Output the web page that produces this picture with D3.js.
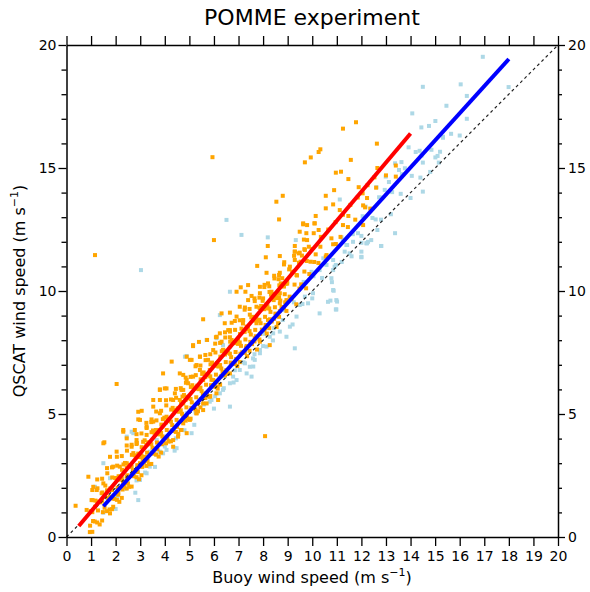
<!DOCTYPE html>
<html>
<head>
<meta charset="utf-8">
<script src="https://cdn.jsdelivr.net/npm/d3@7"></script>
<style>
  body { margin: 0; background: #fff; }
  text { font-family: "DejaVu Sans", sans-serif; fill: #000; }
</style>
</head>
<body>
<div id="chart"></div>
<script>
// chart text
var title = "POMME experiment";
var xLabel = "Buoy wind speed (m s";
var yLabel = "QSCAT wind speed (m s";
var axisTicks = d3.range(0, 21);          // 0..20 every 1
var labelledY = [0, 5, 10, 15, 20];

// fitted lines (buoy, qscat) end points
var redFit = [[0.5, 0.45], [14.0, 16.4]];
var blueFit = [[1.5, 1.25], [18.0, 19.43]];
var oneToOne = [[0, 0], [20, 20]];

// orange points: scattered ones
var orangeScatter = [
  [1.16,11.46],[5.94,15.44],[8.8,13.87],[2.04,6.22],[1.54,3.85],[8.08,4.1],
  [0.37,1.27],[0.96,0.46],[0.89,2.45],[1.09,2.04],[0.82,1.1],[1.02,1.5],[1.23,1.91],[1.5,2.18],
  [1.43,1.78],[1.16,1.23],[1.77,0.96],[1.9,1.23],[1.77,1.64],[1.5,3.81],[1.77,3.26],[2.04,3.47],
  [2.31,4.28],[2.92,5.09],[2.99,4.76],[3.53,5.3],[3.8,5.57],[3.8,5.98],[4.07,6.04],[3.53,4.69],
  [3.26,4.48],[2.45,3.0],[2.17,2.86],[2.17,2.45],[2.45,2.45],[2.31,2.04],[2.65,3.67],[2.85,3.94],
  [1.9,2.86],[2.99,3.0],[3.19,3.26],[1.84,1.91],[2.11,1.78],[3.73,4.35],[4.34,3.67],[4.89,4.22],
  [4.75,4.62],[5.29,5.03],[5.56,5.43],[5.7,5.84],[4.41,5.84],[4.61,5.57],[4.07,4.89],
  [3.93,6.65],[5.15,7.8],[5.39,7.93],[4.28,7.13],[3.8,6.0],[4.0,6.04],[3.53,5.57],[3.06,5.13],
  [2.92,4.78],[3.46,4.78],[3.8,5.03],[2.31,4.35],[2.78,4.35],[2.45,4.01],[2.85,3.78],[3.26,4.15],
  [3.64,4.35],[4.61,6.65],[4.89,6.38],[4.75,5.98],[4.34,5.57],[5.43,7.33],[5.02,7.2],[6.11,8.14],
  [6.44,8.69],[6.65,8.41],[6.17,5.57],[5.7,5.43],[5.56,5.16],[5.02,4.76],[4.68,4.35],[4.34,3.94],
  [4.54,4.08],[5.29,5.03],[5.83,5.7],
  [8.11,11.37],[8.68,11.42],[9.29,11.6],[9.45,11.53],[7.76,11.02],[8.14,10.74],[8.68,10.74],
  [9.09,10.99],[9.29,11.26],[8.63,10.48],[8.98,10.38],[9.36,10.65],[8.2,10.31],[7.87,10.17],
  [7.09,10.15],[7.39,10.24],[7.28,9.97],[6.92,9.97],[7.53,9.8],[7.87,9.91],[8.34,9.97],[8.68,9.91],
  [8.43,9.63],[7.39,9.63],[8.0,9.7],[7.05,9.36],[7.73,9.36],[8.14,9.3],[8.68,9.5],[8.95,9.63],
  [6.31,9.09],[6.65,9.12],[5.56,8.85],[6.92,8.96],[7.19,8.82],[6.72,8.71],[7.33,8.55],[7.73,8.69],
  [8.2,8.82],[8.07,8.48],[8.61,8.69],[6.58,8.41],[6.24,8.28],[6.65,8.12],[5.72,8.01],[6.08,8.12],
  [5.15,7.76],[6.31,7.94],[6.98,8.01],[7.66,8.08],[7.33,7.76],[7.87,7.94],[8.27,7.8],[5.97,7.6],
  [6.37,7.6],[5.09,7.2],[4.89,7.33],[5.43,7.33],[5.29,6.99],[5.76,7.2],[5.43,6.79],[5.83,6.79],
  [4.75,6.59],[5.15,6.52],[5.56,6.38],[4.95,6.25],[4.68,5.98],[5.22,6.04],[5.97,6.38],[6.1,6.11],
  [5.7,5.84],[6.1,5.84],[4.89,5.7],[4.75,5.43],
  [11.78,16.86],[11.25,16.6],[12.63,15.99],[10.33,15.76],[10.26,15.65],[9.7,15.23],[9.94,15.43],
  [11.57,15.33],[10.96,14.81],[11.17,14.85],[11.47,14.55],[12.53,14.62],[12.65,15.0],[13.4,14.65],
  [10.55,13.87],[10.89,14.1],[12.05,13.97],[11.89,14.22],[12.23,13.78],[10.55,13.36],[10.85,13.52],
  [11.12,13.29],[11.47,13.05],[12.07,13.48],[12.36,13.35],[10.14,13.05],[9.63,12.71],[10.09,12.75],
  [11.25,12.68],[12.07,12.68],[9.76,12.35],[10.26,12.48],[10.78,12.14],[10.96,11.91],[9.68,11.7],
  [10.14,11.49],[10.33,11.8],[10.58,11.46],[9.93,11.19],[9.53,11.19],
  [8.54,13.63],[8.65,12.91],[6.0,12.07],[8.19,11.83],[9.63,12.75],[9.79,12.68],[10.1,12.75],
  [9.49,12.41],[9.79,12.07],[9.29,11.83],[9.29,11.6],[9.7,11.67],[9.49,11.56]
];

// orange points: the dense band along the fit
var orangeBand = [
  [0.95,0.20],[1.08,0.65],[0.98,1.05],[1.06,1.50],[1.15,0.63],[1.28,1.08],[1.18,1.48],[1.26,1.98],
  [1.35,0.51],[1.48,1.01],[1.38,1.41],[1.46,1.81],[1.55,1.19],[1.68,1.59],[1.58,2.09],[1.66,2.59],
  [1.75,1.12],[1.88,1.57],[1.78,1.97],[1.86,2.42],[1.95,1.55],[2.08,2.00],[1.98,2.40],[2.06,2.90],
  [2.15,1.43],[2.28,1.93],[2.18,2.33],[2.26,2.73],[2.35,2.11],[2.48,2.51],[2.38,3.01],[2.46,3.51],
  [2.55,2.04],[2.68,2.49],[2.58,2.89],[2.66,3.34],[2.75,2.47],[2.88,2.92],[2.78,3.32],[2.86,3.82],
  [2.95,2.35],[3.08,2.85],[2.98,3.25],[3.06,3.65],[3.15,3.03],[3.28,3.43],[3.18,3.93],[3.26,4.43],
  [3.35,2.96],[3.48,3.41],[3.38,3.81],[3.46,4.26],[3.55,3.39],[3.68,3.84],[3.58,4.24],[3.66,4.74],
  [3.75,3.27],[3.88,3.77],[3.78,4.17],[3.86,4.57],[3.95,3.95],[4.08,4.35],[3.98,4.85],[4.06,5.35],
  [4.15,3.88],[4.28,4.33],[4.18,4.73],[4.26,5.18],[4.35,4.31],[4.48,4.76],[4.38,5.16],[4.46,5.66],
  [4.55,4.19],[4.68,4.69],[4.58,5.09],[4.66,5.49],[4.75,4.87],[4.88,5.27],[4.78,5.77],[4.86,6.27],
  [4.95,4.80],[5.08,5.25],[4.98,5.65],[5.06,6.10],[5.15,5.23],[5.28,5.68],[5.18,6.08],[5.26,6.58],
  [5.35,5.11],[5.48,5.61],[5.38,6.01],[5.46,6.41],[5.55,5.79],[5.68,6.19],[5.58,6.69],[5.66,7.19],
  [5.75,5.72],[5.88,6.17],[5.78,6.57],[5.86,7.02],[5.95,6.15],[6.08,6.60],[5.98,7.00],[6.06,7.50],
  [6.15,6.03],[6.28,6.53],[6.18,6.93],[6.26,7.33],[6.35,6.71],[6.48,7.11],[6.38,7.61],[6.46,8.11],
  [6.55,6.64],[6.68,7.09],[6.58,7.49],[6.66,7.94],[6.75,7.07],[6.88,7.52],[6.78,7.92],[6.86,8.42],
  [6.95,6.95],[7.08,7.45],[6.98,7.85],[7.06,8.25],[7.15,7.51],[7.28,8.03],[7.18,8.68],[7.26,9.33],
  [7.35,7.35],[7.48,7.93],[7.38,8.46],[7.46,9.04],[7.55,7.84],[7.68,8.42],[7.58,8.95],[7.66,9.59],
  [7.75,7.62],[7.88,8.26],[7.78,8.79],[7.86,9.31],[7.95,8.43],[8.08,8.95],[7.98,9.60],[8.06,10.25],
  [8.15,8.27],[8.28,8.85],[8.18,9.38],[8.26,9.96],[8.35,8.76],[8.48,9.34],[8.38,9.87],[8.46,10.51],
  [8.55,8.54],[8.68,9.18],[8.58,9.71],[8.66,10.23],[8.75,9.35],[8.88,9.87],[8.78,10.52],[8.86,11.17],
  [8.95,9.19],[9.08,9.77],[8.98,10.30],[9.06,10.88],[9.15,9.68],[9.28,10.26],[9.18,10.79],[9.26,11.43],
  [9.35,9.46],[9.48,10.10],[9.38,10.63],[9.46,11.15],[9.55,10.27],[9.68,10.79],[9.58,11.44],[9.66,12.09],
  [9.75,10.11],[9.88,10.69],[9.78,11.22],[9.86,11.80],[9.95,10.60],[10.08,11.18],[9.98,11.71],[10.06,12.35],
  [10.25,11.14],[10.35,12.2],[10.55,11.4],[10.65,12.5],[10.85,11.9],[10.95,12.8],[11.15,12.2],[11.25,13.1],
  [11.45,12.6],[11.55,13.5],[11.75,12.9],[11.85,13.8],[12.15,13.4],[12.25,14.3],[12.6,14.2],[13.0,14.7],
  [13.4,15.1],
  [2.1,1.72],[2.12,2.47],[2.3,2.25],[2.32,2.95],[2.5,2.18],[2.52,2.93],[2.7,2.71],[2.72,3.41],
  [2.9,2.64],[2.92,3.39],[3.1,3.17],[3.12,3.87],[3.3,3.10],[3.32,3.85],[3.5,3.63],[3.52,4.33],
  [3.7,3.56],[3.72,4.31],[3.9,4.09],[3.92,4.79],[4.1,4.02],[4.12,4.77],[4.3,4.55],[4.32,5.25],
  [4.5,4.48],[4.52,5.23],[4.7,5.01],[4.72,5.71],[4.9,4.94],[4.92,5.69],[5.1,5.47],[5.12,6.17],
  [5.3,5.40],[5.32,6.15],[5.5,5.93],[5.52,6.63],[5.7,5.86],[5.72,6.61],[5.9,6.39],[5.92,7.09],
  [6.1,6.32],[6.12,7.07],[6.3,6.85],[6.32,7.55],[6.5,6.78],[6.52,7.53],[6.7,7.31],[6.72,8.01],
  [6.9,7.24],[6.92,7.99],[7.1,7.77],[7.12,8.47],[7.3,7.70],[7.32,8.45],[7.5,8.23],[7.52,8.93],
  [7.7,8.16],[7.72,8.91],[7.9,8.69],[7.92,9.39],[8.1,8.62],[8.12,9.37],[8.3,9.15],[8.32,9.85],
  [8.5,9.08],[8.52,9.83],[8.7,9.61],[8.72,10.31],[8.9,9.54],[8.92,10.29],
  [1.05,0.21],[1.05,1.01],[1.05,1.91],[1.25,0.59],[1.25,1.44],[1.25,2.34],[1.45,0.67],[1.45,1.47],
  [1.45,2.37],[1.65,1.05],[1.65,1.90],[1.65,2.80],[1.85,1.13],[1.85,1.93],[1.85,2.83],[2.05,1.51],
  [2.05,2.36],[2.05,3.26],[2.25,1.59],[2.25,2.39],[2.25,3.29],[2.45,1.97],[2.45,2.82],[2.45,3.72],
  [2.65,2.05],[2.65,2.85],[2.65,3.75],[2.85,2.43],[2.85,3.28],[2.85,4.18],[3.05,2.51],[3.05,3.31],
  [3.05,4.21],[3.25,2.89],[3.25,3.74],[3.25,4.64],[3.45,2.97],[3.45,3.77],[3.45,4.67],[3.65,3.35],
  [3.65,4.20],[3.65,5.10],[3.85,3.43],[3.85,4.23],[3.85,5.13],[4.05,3.81],[4.05,4.66],[4.05,5.56],
  [4.25,3.89],[4.25,4.69],[4.25,5.59],[4.45,4.27],[4.45,5.12],[4.45,6.02],[4.65,4.35],[4.65,5.15],
  [4.65,6.05],[4.85,4.73],[4.85,5.58],[4.85,6.48],[5.05,4.81],[5.05,5.61],[5.05,6.51],[5.25,5.19],
  [5.25,6.04],[5.25,6.94],[5.45,5.27],[5.45,6.07],[5.45,6.97],[5.65,5.65],[5.65,6.50],[5.65,7.40],
  [5.85,5.73],[5.85,6.53],[5.85,7.43],[6.05,6.11],[6.05,6.96],[6.05,7.86],[6.25,6.19],[6.25,6.99],
  [6.25,7.89],[6.45,6.57],[6.45,7.42],[6.45,8.32],[6.65,6.65],[6.65,7.45],[6.65,8.35],[6.85,7.03],
  [6.85,7.88],[6.85,8.78],[7.05,7.11],[7.05,7.91],[7.05,8.81],[7.25,7.49],[7.25,8.34],[7.25,9.24],
  [7.45,7.57],[7.45,8.37],[7.45,9.27],[7.65,7.95],[7.65,8.80],[7.65,9.70],[7.85,8.03],[7.85,8.83],
  [7.85,9.73],[8.05,8.41],[8.05,9.26],[8.05,10.16],[8.25,8.49],[8.25,9.29],[8.25,10.19],[8.45,8.87],
  [8.45,9.72],[8.45,10.62],[8.65,8.95],[8.65,9.75],[8.65,10.65],[8.85,9.33],[8.85,10.18],[8.85,11.08]
];

// light blue points
var blueScatter = [
  [3.03,10.85],[6.51,12.89],[7.12,12.28],[8.19,12.18],[9.33,12.07],
  [14.07,17.22],[15.01,16.91],[14.75,16.71],[14.44,16.65],[15.32,16.27],[13.92,15.84],[14.21,15.65],
  [14.37,15.7],[15.1,15.49],[14.5,15.22],[13.37,15.19],[13.63,15.24],[13.53,14.92],[13.77,14.99],
  [12.99,14.65],[13.12,14.43],[14.5,14.04],[12.61,14.22],[12.95,14.11],[11.12,13.72],[12.72,13.81],
  [12.17,13.43],[12.58,12.91],[13.37,12.35],[12.8,11.83],[12.27,12.0],[12.65,12.48],[12.0,11.39],
  [11.39,11.87],[11.66,12.0],[11.86,12.35],[11.19,12.18],[10.91,10.99],[11.52,11.53],[12.2,11.94],
  [16.94,19.52],[14.5,18.3],[16.04,18.4],[17.99,18.29],[16.29,17.93],[15.46,17.53],[16.29,17.0],
  [15.32,16.23],[15.01,15.43],[15.15,15.22],
  [6.65,9.97],[6.24,9.02],[5.7,8.01],[4.82,7.33],[9.97,10.78],[10.3,10.85],[10.58,11.06],[10.85,10.04],
  [10.98,9.63],[10.98,9.25],[10.3,9.09],[10.64,9.56],[10.03,9.91],[9.7,9.77],[9.83,9.5],[9.49,9.43],
  [9.36,8.96],[9.09,8.55],[8.95,8.14],[9.29,7.67],[8.68,8.35],[8.27,8.14],[8.41,8.28],[7.87,7.6],
  [7.66,7.2],[7.46,6.92],[7.53,6.52],[7.26,7.06],[6.78,6.52],[6.65,6.25],[6.37,5.98],[6.65,5.3],[5.9,5.57],
  [4.89,7.36],[6.11,8.08],[6.37,7.8],[6.65,7.74],[7.05,6.79],[6.92,6.38],[7.33,6.65],[7.59,7.26],
  [7.87,7.47],[8.14,7.74],[6.24,5.84],[4.89,5.03],[4.41,3.61],[3.93,3.4],[3.8,3.47],[3.26,2.59],
  [3.39,2.86],[2.72,4.22],
  [1.5,3.0],[1.5,0.99],[1.16,2.04],[1.77,2.39],[2.65,4.28],[2.45,4.08],[2.92,1.5],[2.99,2.32],
  [3.67,3.94],[3.39,3.47],[4.07,3.54],[4.48,3.61],[5.09,4.22],[5.83,5.5],
  [11.42,11.87],[12.0,11.96],[12.23,11.94],[12.81,11.83],[12.0,11.6],[12.0,11.37],[11.32,11.6],
  [10.96,11.06],[10.85,10.85],[10.78,10.52],[10.87,10.01],[11.01,9.57],[10.96,9.25],[10.74,9.61]
];

var blueBand = [
  [2.0,1.14],[2.05,1.64],[2.4,1.97],[2.45,2.37],[2.8,1.80],[2.85,2.30],[3.2,2.62],[3.25,3.12],
  [3.6,2.85],[3.65,3.35],[4.0,3.68],[4.05,4.08],[4.4,3.51],[4.45,4.01],[4.8,4.34],[4.85,4.84],
  [5.2,4.56],[5.25,5.06],[5.6,5.39],[5.65,5.79],[6.0,5.22],[6.05,5.72],[6.4,6.05],[6.45,6.55],
  [6.8,6.28],[6.85,6.78],[7.2,7.10],[7.25,7.50],[7.6,6.93],[7.65,7.43],[8.0,7.76],[8.05,8.26],
  [8.4,7.99],[8.45,8.49],[8.8,8.82],[8.85,9.22],
  [9.2,8.64],[9.25,9.54],[9.6,9.47],[9.65,10.37],[10.0,9.70],[10.05,10.60],[10.4,10.53],[10.45,11.33],
  [10.8,10.36],[10.85,11.26],[11.2,11.18],[11.25,12.08],[11.6,11.41],[11.65,12.31],[12.0,12.24],[12.05,13.04],
  [12.4,12.07],[12.45,12.97],[12.8,12.90],[12.85,13.80],[13.2,13.12],[13.25,14.02],[13.6,13.95],[13.65,14.75],
  [14.0,13.78],[14.05,14.68],[14.4,14.61],[14.45,15.51],[14.8,14.84],[14.85,15.74],[15.2,15.66],[15.65,16.39],
  [16.0,16.32]
];

var W = 590, H = 592;

var svg = d3.select("#chart").append("svg")
    .attr("width", W)
    .attr("height", H);

var x = d3.scaleLinear().domain([0, 20]).range([66.5, 558]);
var y = d3.scaleLinear().domain([0, 20]).range([537, 45]);

// points (light blue underneath, orange on top)
var sq = 4;
function drawPoints(pts, colour) {
  svg.append("g")
    .selectAll("rect")
    .data(pts)
    .enter().append("rect")
    .attr("x", d => x(d[0]) - sq / 2)
    .attr("y", d => y(d[1]) - sq / 2)
    .attr("width", sq)
    .attr("height", sq)
    .attr("fill", colour);
}
drawPoints(blueBand.concat(blueScatter), "#add8e6");
drawPoints(orangeBand.concat(orangeScatter), "#ffa500");

var line = d3.line().x(d => x(d[0])).y(d => y(d[1]));

svg.append("path")
    .attr("d", line(oneToOne))
    .attr("fill", "none")
    .attr("stroke", "#222")
    .attr("stroke-width", 1.2)
    .attr("stroke-dasharray", "3,3");

svg.append("path")
    .attr("d", line(redFit))
    .attr("fill", "none")
    .attr("stroke", "#ff0000")
    .attr("stroke-width", 4);

svg.append("path")
    .attr("d", line(blueFit))
    .attr("fill", "none")
    .attr("stroke", "#0000ff")
    .attr("stroke-width", 4);

// axes
function styleAxis(g) {
  g.attr("font-family", null);
  g.select(".domain").attr("stroke", "#000").attr("stroke-width", 1.5);
  g.selectAll(".tick line").attr("stroke", "#000").attr("stroke-width", 1.3);
  g.selectAll(".tick text").style("font-size", "14px").attr("fill", "#000");
}

svg.append("g")
    .attr("transform", "translate(0,537)")
    .call(d3.axisBottom(x).tickValues(axisTicks).tickSize(9).tickSizeOuter(0).tickPadding(5))
    .call(styleAxis);

svg.append("g")
    .attr("transform", "translate(0,45)")
    .call(d3.axisTop(x).tickValues(axisTicks).tickSize(9).tickSizeOuter(0).tickFormat(""))
    .call(styleAxis);

var yLeft = svg.append("g")
    .attr("transform", "translate(66.5,0)")
    .call(d3.axisLeft(y).tickValues(axisTicks).tickSize(5).tickSizeOuter(0)
      .tickFormat(d => labelledY.includes(d) ? d : ""))
    .call(styleAxis);
yLeft.selectAll(".tick line").filter(d => d % 5 === 0).attr("x2", -8);
yLeft.selectAll(".tick text").attr("x", -10);

var yRight = svg.append("g")
    .attr("transform", "translate(558,0)")
    .call(d3.axisRight(y).tickValues(axisTicks).tickSize(4).tickSizeOuter(0)
      .tickFormat(d => labelledY.includes(d) ? d : ""))
    .call(styleAxis);
yRight.selectAll(".tick line").filter(d => d % 5 === 0).attr("x2", 7);
yRight.selectAll(".tick text").attr("x", 10);

// title and axis titles
svg.append("text")
    .attr("x", 312)
    .attr("y", 25)
    .attr("text-anchor", "middle")
    .style("font-size", "22px")
    .text(title);

var xt = svg.append("text")
    .attr("x", 312)
    .attr("y", 583)
    .attr("text-anchor", "middle")
    .style("font-size", "16px");
xt.append("tspan").text(xLabel);
xt.append("tspan").attr("dy", -7).style("font-size", "11px").text("\u22121");
xt.append("tspan").attr("dy", 7).text(")");

var yt = svg.append("text")
    .attr("transform", "translate(25,291) rotate(-90)")
    .attr("text-anchor", "middle")
    .style("font-size", "16px");
yt.append("tspan").text(yLabel);
yt.append("tspan").attr("dy", -7).style("font-size", "11px").text("\u22121");
yt.append("tspan").attr("dy", 7).text(")");
</script>
</body>
</html>
